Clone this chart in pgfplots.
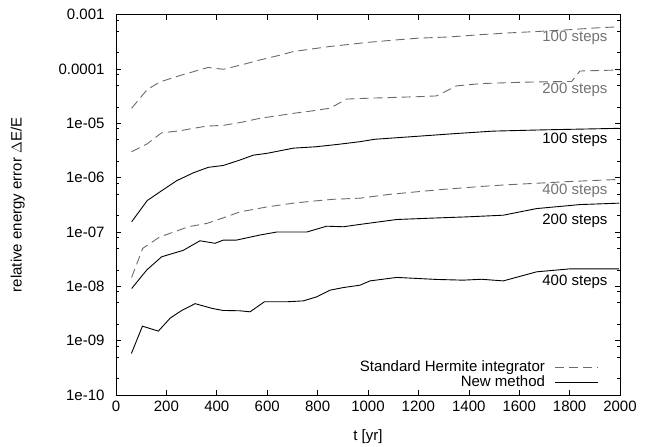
\documentclass[border=0pt]{standalone}
\usepackage{fontspec}
\setmainfont{Liberation Sans}
\usepackage{pgfplots}
\pgfplotsset{compat=1.18}

\definecolor{hermgray}{rgb}{0.42,0.42,0.42}
\definecolor{labgray}{rgb}{0.45,0.45,0.45}

\begin{document}
\begin{tikzpicture}[font=\fontsize{15}{17}\selectfont]
\begin{axis}[
    name=ax,
    scale only axis,
    width=504pt, height=380.3pt,
    xmin=0, xmax=2000,
    ymode=log, ymin=1e-10, ymax=1e-3,
    xtick distance=200,
    ytick={1e-10,1e-9,1e-8,1e-7,1e-6,1e-5,1e-4,1e-3},
    yticklabels={1e-10,1e-09,1e-08,1e-07,1e-06,1e-05,0.0001,0.001},
    minor ytick={2e-10,5e-10,8e-10,2e-9,5e-9,8e-9,2e-8,5e-8,8e-8,2e-7,5e-7,8e-7,
                 2e-6,5e-6,8e-6,2e-5,5e-5,8e-5,2e-4,5e-4,8e-4},
    tick align=inside,
    major tick length=5pt, minor tick length=3pt,
    tick style={black, line width=0.6pt},
    axis line style={line width=0.8pt},
    /pgf/number format/assume math mode=true,
    /pgf/number format/1000 sep={},
    xlabel={t [yr]},
    ylabel={relative energy error $\Delta$E/E},
    every axis x label/.style={at={(axis description cs:0.5,-0.11)}, anchor=center},
    every axis y label/.style={at={(axis description cs:-0.195,0.5)}, rotate=90, anchor=center},
    yticklabel style={xshift=-8pt},
    xticklabel style={yshift=-2pt},
    legend style={at={(axis cs:1917,1.25e-10)}, anchor=south east, draw=none, fill=none,
        inner sep=0pt, row sep=1.5pt, column sep=10pt, font=\fontsize{15}{17}\selectfont,
        nodes={inner sep=0pt, text height=10.5pt, text depth=3pt}},
    legend plot pos=right,
    legend cell align=right,
    legend image code/.code={\draw[#1] (0pt,0pt) -- (43pt,0pt);},
]
% Standard Hermite integrator, 100 steps
\addplot[hermgray, line width=0.9pt, dash pattern=on 9pt off 5pt] coordinates {
(62,1.9e-5)(124,4.2e-5)(175,5.8e-5)(250,7.5e-5)(320,9.3e-5)(366,1.07e-4)(426,9.9e-5)
(500,1.2e-4)(571,1.47e-4)(640,1.75e-4)(704,2.1e-4)(780,2.35e-4)(849,2.6e-4)(929,2.85e-4)
(1000,3.1e-4)(1100,3.4e-4)(1200,3.7e-4)(1325,3.9e-4)(1450,4.3e-4)(1550,4.6e-4)
(1669,4.9e-4)(1800,5.3e-4)(1900,5.7e-4)(1997,6.0e-4)};
\addlegendentry{Standard Hermite integrator}
% New method, 100 steps
\addplot[black, line width=0.9pt] coordinates {
(62,1.54e-7)(124,3.8e-7)(175,5.5e-7)(241,8.8e-7)(307,1.23e-6)(366,1.55e-6)(426,1.68e-6)
(490,2.1e-6)(545,2.6e-6)(598,2.8e-6)(704,3.5e-6)(791,3.7e-6)(880,4.1e-6)(968,4.6e-6)
(1028,5.1e-6)(1200,5.8e-6)(1350,6.5e-6)(1497,7.2e-6)(1700,7.6e-6)(1997,8.1e-6)};
\addlegendentry{New method}
% Standard Hermite, 200 steps
\addplot[hermgray, line width=0.9pt, dash pattern=on 9pt off 5pt, forget plot] coordinates {
(62,3.0e-6)(124,4.2e-6)(181,6.7e-6)(254,7.3e-6)(300,8e-6)(360,8.9e-6)(426,9.2e-6)
(500,1.05e-5)(571,1.24e-5)(640,1.38e-5)(704,1.53e-5)(780,1.7e-5)(849,1.9e-5)(915,2.8e-5)
(1000,2.9e-5)(1100,3.0e-5)(1200,3.1e-5)(1272,3.2e-5)(1352,4.9e-5)(1450,5.4e-5)
(1550,5.6e-5)(1669,5.8e-5)(1808,5.9e-5)(1841,9.2e-5)(1920,9.4e-5)(1997,9.6e-5)};
% Standard Hermite, 400 steps
\addplot[hermgray, line width=0.9pt, dash pattern=on 9pt off 5pt, forget plot] coordinates {
(62,1.46e-8)(106,5.0e-8)(175,8.2e-8)(230,1.0e-7)(287,1.25e-7)(360,1.44e-7)(430,1.85e-7)
(492,2.35e-7)(600,2.9e-7)(704,3.4e-7)(780,3.7e-7)(862,4.0e-7)(968,4.2e-7)(1080,4.9e-7)
(1193,5.5e-7)(1300,6.1e-7)(1450,6.9e-7)(1550,7.4e-7)(1669,7.9e-7)(1800,8.5e-7)(1997,9.3e-7)};
% New method, 200 steps
\addplot[black, line width=0.9pt, forget plot] coordinates {
(62,9.1e-9)(122,2.0e-8)(181,3.5e-8)(267,4.6e-8)(333,6.9e-8)(393,6.2e-8)(426,7.1e-8)
(478,7.1e-8)(571,8.8e-8)(638,1.0e-7)(757,1.0e-7)(836,1.28e-7)(902,1.25e-7)(968,1.38e-7)
(1114,1.7e-7)(1250,1.8e-7)(1392,1.9e-7)(1537,2.04e-7)(1669,2.7e-7)(1841,3.2e-7)(1997,3.4e-7)};
% New method, 400 steps
\addplot[black, line width=0.9pt, forget plot] coordinates {
(61,5.8e-10)(105,1.85e-9)(168,1.5e-9)(215,2.6e-9)(261,3.6e-9)(314,4.8e-9)(384,3.9e-9)
(425,3.6e-9)(491,3.55e-9)(532,3.4e-9)(589,5.2e-9)(677,5.2e-9)(743,5.4e-9)(796,6.4e-9)
(849,8.5e-9)(902,9.5e-9)(968,1.05e-8)(1008,1.26e-8)(1114,1.46e-8)(1272,1.34e-8)
(1378,1.3e-8)(1450,1.35e-8)(1537,1.26e-8)(1669,1.85e-8)(1802,2.1e-8)(1997,2.1e-8)};

\node[labgray, anchor=east, inner sep=0pt] at (axis cs:1951,3.7e-4) {100 steps};
\node[labgray, anchor=east, inner sep=0pt] at (axis cs:1951,4.1e-5) {200 steps};
\node[black, anchor=east, inner sep=0pt] at (axis cs:1951,4.9e-6) {100 steps};
\node[labgray, anchor=east, inner sep=0pt] at (axis cs:1951,5.7e-7) {400 steps};
\node[black, anchor=east, inner sep=0pt] at (axis cs:1951,1.6e-7) {200 steps};
\node[black, anchor=east, inner sep=0pt] at (axis cs:1951,1.2e-8) {400 steps};
\end{axis}
\path (ax.south west) ++(-116pt,-52pt) coordinate (bbA);
\path (ax.north east) ++(28pt,14.7pt) coordinate (bbB);
\pgfresetboundingbox
\path (bbA) rectangle (bbB);
\end{tikzpicture}
\end{document}
